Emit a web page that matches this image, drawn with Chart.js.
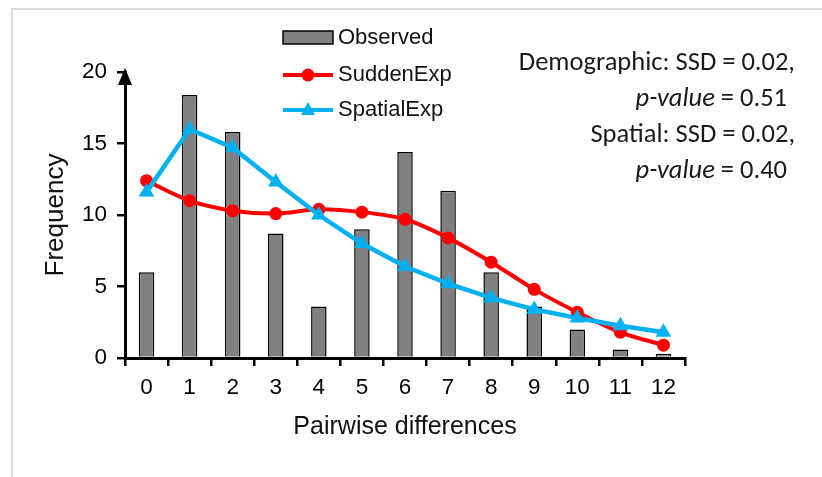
<!DOCTYPE html>
<html>
<head>
<meta charset="utf-8">
<script src="https://cdn.jsdelivr.net/npm/chart.js@4/dist/chart.umd.min.js"></script>
<style>
  html, body { margin: 0; padding: 0; background: #fff; }
  #wrap { position: relative; width: 822px; height: 477px; }
  #note {
    position: absolute; right: 27px; top: 43px;
    font-family: Carlito, Lato, "Open Sans", sans-serif; font-size: 26.5px;
    line-height: 36px; text-align: right; color: #1a1a1a; white-space: nowrap;
  }
  #note .s { padding-right: 8px; }
</style>
</head>
<body>
<div id="wrap">
  <canvas id="c" width="822" height="477"></canvas>
  <div id="note">
    <div>Demographic: SSD = 0.02,</div>
    <div class="s"><i>p-value</i> = 0.51</div>
    <div>Spatial: SSD = 0.02,</div>
    <div class="s"><i>p-value</i> = 0.40</div>
  </div>
</div>
<script>
const categories = ['0','1','2','3','4','5','6','7','8','9','10','11','12'];
const observed   = [6.0, 18.4, 15.8, 8.7, 3.6, 9.0, 14.4, 11.7, 6.0, 3.6, 2.0, 0.6, 0.3];
const suddenExp  = [12.4, 11.0, 10.3, 10.1, 10.4, 10.2, 9.7, 8.4, 6.7, 4.8, 3.2, 1.8, 0.9];
const spatialExp = [11.6, 16.0, 14.7, 12.3, 10.0, 8.0, 6.4, 5.2, 4.2, 3.4, 2.8, 2.25, 1.8];
const yTicks = [0, 5, 10, 15, 20];

const RED = '#ff0000', BLUE = '#00b0f0', GRAY = '#808080';
const AX_FONT = "'Liberation Sans', Arial, sans-serif";

const decor = {
  id: 'decor',
  beforeDraw(chart) {
    const ctx = chart.ctx;
    ctx.save();
    ctx.strokeStyle = '#dcdcdc';
    ctx.lineWidth = 2;
    ctx.beginPath();
    ctx.moveTo(12, 477); ctx.lineTo(12, 9); ctx.lineTo(822, 9);
    ctx.stroke();
    ctx.restore();
  },
  afterDraw(chart) {
    const ctx = chart.ctx;
    const ca = chart.chartArea;
    ctx.save();
    const x0 = chart.scales.y.right;
    ctx.fillStyle = '#000';
    ctx.beginPath();
    ctx.moveTo(x0, ca.top - 4);
    ctx.lineTo(x0 - 7, ca.top + 13);
    ctx.lineTo(x0 + 7, ca.top + 13);
    ctx.closePath();
    ctx.fill();
    const ds = chart.data.datasets;
    const lx = 283, lw = 50, tx = 338;
    const rows = [38, 75, 110];
    ctx.font = "22px " + AX_FONT;
    ctx.textBaseline = 'middle';
    ctx.textAlign = 'left';
    ds.forEach((d, i) => {
      const y = rows[i];
      if (d.type === 'bar') {
        ctx.fillStyle = GRAY;
        ctx.fillRect(lx, y - 7, lw, 13);
        ctx.strokeStyle = '#000';
        ctx.lineWidth = 1.5;
        ctx.strokeRect(lx, y - 7, lw, 13);
      } else {
        ctx.strokeStyle = d.borderColor;
        ctx.lineWidth = 4;
        ctx.beginPath();
        ctx.moveTo(lx, y); ctx.lineTo(lx + lw, y);
        ctx.stroke();
        ctx.fillStyle = d.borderColor;
        const cx = lx + lw / 2;
        ctx.beginPath();
        if (d.pointStyle === 'triangle') {
          ctx.moveTo(cx, y - 8); ctx.lineTo(cx - 7, y + 5); ctx.lineTo(cx + 7, y + 5); ctx.closePath();
        } else {
          ctx.arc(cx, y, 6.5, 0, Math.PI * 2);
        }
        ctx.fill();
      }
      ctx.fillStyle = '#111';
      ctx.fillText(d.label, tx, y);
    });
    ctx.restore();
  }
};

new Chart(document.getElementById('c'), {
  data: {
    labels: categories,
    datasets: [
      { type: 'bar', label: 'Observed', data: observed, backgroundColor: GRAY,
        borderColor: '#000', borderWidth: 1.5, barPercentage: 0.36, categoryPercentage: 1, order: 3 },
      { type: 'line', label: 'SuddenExp', data: suddenExp, borderColor: RED, backgroundColor: RED,
        borderWidth: 4, pointRadius: 6.5, pointStyle: 'circle', pointBorderWidth: 0, tension: 0.3, order: 2 },
      { type: 'line', label: 'SpatialExp', data: spatialExp, borderColor: BLUE, backgroundColor: BLUE,
        borderWidth: 4.5, pointRadius: 9, pointStyle: 'triangle', pointBorderWidth: 0, tension: 0, order: 1 }
    ]
  },
  options: {
    responsive: false,
    animation: false,
    devicePixelRatio: 1,
    layout: { padding: { top: 72, right: 137, left: 0, bottom: 0 } },
    plugins: { legend: { display: false }, tooltip: { enabled: false } },
    scales: {
      x: {
        type: 'category',
        offset: true,
        grid: { display: true, offset: true, drawOnChartArea: false, drawTicks: true, tickLength: 8, color: '#000', lineWidth: 2.5 },
        border: { display: true, color: '#000', width: 3 },
        ticks: { color: '#000', font: { family: AX_FONT, size: 22.5 }, padding: 8, maxRotation: 0 },
        title: { display: true, text: 'Pairwise differences', color: '#111',
                 font: { family: AX_FONT, size: 25 }, padding: { top: 0, bottom: 35 } },
        afterFit(s) { s.height = 119; }
      },
      y: {
        min: 0, max: 20,
        afterBuildTicks(s) { s.ticks = yTicks.map(v => ({ value: v })); },
        grid: { display: true, drawOnChartArea: false, drawTicks: true, tickLength: 8, color: '#000', lineWidth: 2.5 },
        border: { display: true, color: '#000', width: 3 },
        ticks: { color: '#000', font: { family: AX_FONT, size: 22.5 }, padding: 10 },
        title: { display: true, text: 'Frequency', color: '#111',
                 font: { family: AX_FONT, size: 26 }, padding: { top: 40, bottom: 0 } },
        afterFit(s) { s.width = 125; }
      }
    }
  },
  plugins: [decor]
});
</script>
</body>
</html>
